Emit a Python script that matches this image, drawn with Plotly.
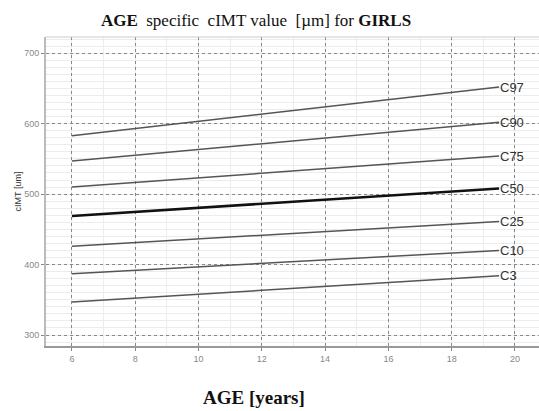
import plotly.graph_objects as go

ages = [6, 19.5]
centiles = ["C97", "C90", "C75", "C50", "C25", "C10", "C3"]
start_vals = [583, 547, 510, 469, 426, 387, 347]
end_vals = [652, 602, 554, 508, 461, 420, 384]
x_ticks = [6, 8, 10, 12, 14, 16, 18, 20]
y_ticks = [300, 400, 500, 600, 700]

fig = go.Figure()
for name, v0, v1 in zip(centiles, start_vals, end_vals):
    is50 = name == "C50"
    fig.add_trace(go.Scatter(
        x=ages, y=[v0, v1], mode="lines",
        line=dict(color="#111111" if is50 else "#555555", width=2.6 if is50 else 1.5),
        showlegend=False, hoverinfo="skip"))
    fig.add_annotation(x=ages[-1], y=v1, text=name, showarrow=False,
                       xanchor="left", yanchor="middle", xshift=-1,
                       font=dict(family="Liberation Sans, Arial", size=13, color="#333333"))

fig.update_layout(
    width=539, height=411,
    margin=dict(l=46, r=0, t=37, b=65),
    paper_bgcolor="white", plot_bgcolor="white",
    title=dict(
        text="<b>AGE</b>\u00a0 specific\u00a0 cIMT value\u00a0 [µm] for <b>GIRLS</b>",
        x=0.475, xanchor="center", y=0.952, yanchor="middle",
        font=dict(family="Liberation Serif, Times New Roman", size=17, color="#111111")),
)
fig.add_annotation(xref="paper", yref="paper", x=0.422, y=-0.205,
                   text="<b>AGE [years]</b>", showarrow=False,
                   xanchor="center", yanchor="bottom", borderpad=0,
                   font=dict(family="Liberation Serif, Times New Roman", size=19, color="#111111"))
fig.update_xaxes(
    range=[5.18, 20.76], tickvals=x_ticks, ticks="outside", ticklen=3, tickcolor="#888888",
    tickfont=dict(family="Liberation Sans, Arial", size=9, color="#888888"),
    showline=True, linecolor="#999999", linewidth=1.5, mirror=False,
    showgrid=True, gridcolor="#888888", gridwidth=1.2, griddash="dot",
    minor=dict(dtick=1, showgrid=True, gridcolor="#ececec", gridwidth=1, griddash="solid"),
    zeroline=False,
)
fig.update_yaxes(
    range=[284.4, 723], tickvals=y_ticks, ticks="outside", ticklen=3, tickcolor="#888888",
    tickfont=dict(family="Liberation Sans, Arial", size=9, color="#888888"),
    showline=True, linecolor="#bbbbbb", linewidth=2, mirror=False,
    showgrid=True, gridcolor="#888888", gridwidth=1.2, griddash="dot",
    minor=dict(dtick=10, showgrid=True, gridcolor="#ececec", gridwidth=1, griddash="solid"),
    zeroline=False,
    title=dict(text="cIMT [um]", standoff=1,
               font=dict(family="Liberation Sans, Arial", size=9, color="#333333")),
)
fig.add_shape(type="line", xref="paper", yref="paper", x0=0, x1=1, y0=1, y1=1,
              line=dict(color="#cccccc", width=1))
fig.write_html("out.html")
